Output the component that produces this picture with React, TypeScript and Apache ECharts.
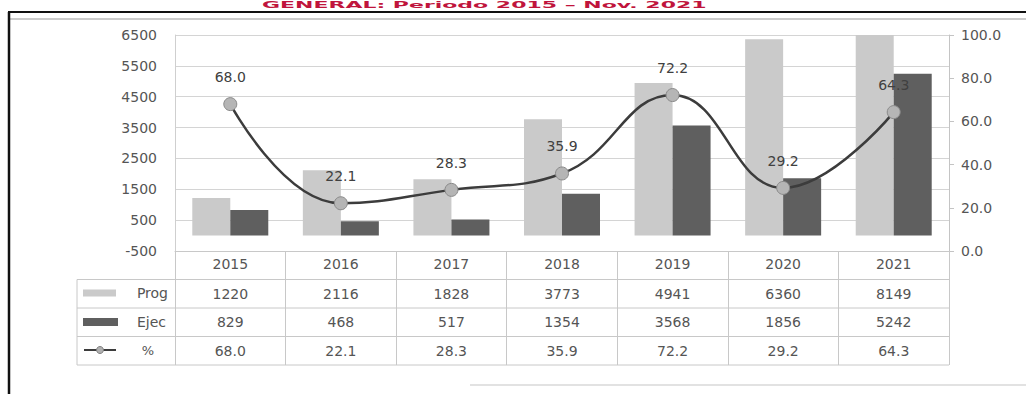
import React, { useEffect, useRef } from "react";
import * as echarts from "echarts";

const years = ["2015", "2016", "2017", "2018", "2019", "2020", "2021"];
const prog = [1220, 2116, 1828, 3773, 4941, 6360, 8149];
const ejec = [829, 468, 517, 1354, 3568, 1856, 5242];
const pct = [68.0, 22.1, 28.3, 35.9, 72.2, 29.2, 64.3];
const seriesNames = ["Prog", "Ejec", "%"];
const leftAxis = { min: -500, max: 6500, interval: 1000 };
const rightAxis = { min: 0, max: 100, interval: 20 };
const titleText = "GENERAL: Periodo 2015 – Nov. 2021";

const FONT = "DejaVu Sans";
const TXT = "#555555";
const GRIDC = "#d4d4d4";
const TABLEC = "#c8c8c8";
const PROG_C = "#cacaca";
const EJEC_C = "#5f5f5f";
const LINE_C = "#3c3c3c";

export default function App() {
  const ref = useRef<HTMLDivElement>(null);
  useEffect(() => {
    if (!ref.current) return;
    const chart = echarts.init(ref.current, null, { renderer: "svg" });
    const gridBottomY = 251;
    const rowH = 28.5;
    const tableLeft = 77;
    const tableRight = 949;
    const rowLines = [1, 2, 3, 4].map((i) => gridBottomY + rowH * i);
    const valueRows = [prog, ejec, pct.map((v) => v.toFixed(1))];

    const xBase = {
      type: "category",
      data: years,
      gridIndex: 0,
      position: "bottom",
      axisLine: { show: false, onZero: false },
      axisTick: { show: false },
      splitLine: { show: false },
    };

    const graphics: any[] = [
      // frame
      { type: "line", shape: { x1: 8, y1: 12, x2: 1026, y2: 12 }, style: { stroke: "#111", lineWidth: 2 } },
      { type: "line", shape: { x1: 10, y1: 19, x2: 1026, y2: 19 }, style: { stroke: "#bbb", lineWidth: 1.5 } },
      { type: "line", shape: { x1: 9, y1: 12, x2: 9, y2: 394 }, style: { stroke: "#111", lineWidth: 2.5 } },
      { type: "line", shape: { x1: 470, y1: 385, x2: 1026, y2: 385 }, style: { stroke: "#d8d8d8", lineWidth: 1.5 } },
      {
        type: "text",
        x: 262,
        y: 5,
        scaleY: 0.42,
        style: { text: titleText, fill: "#c0143c", font: `bold 22px ${FONT}`, verticalAlign: "middle" },
      },
      // table horizontal lines
      ...rowLines.map((y) => ({
        type: "line",
        shape: { x1: tableLeft, y1: y, x2: tableRight, y2: y },
        style: { stroke: TABLEC, lineWidth: 1 },
      })),
      { type: "line", shape: { x1: tableLeft, y1: rowLines[0], x2: tableLeft, y2: rowLines[3] }, style: { stroke: TABLEC, lineWidth: 1 } },
      // legend keys
      { type: "rect", shape: { x: 83, y: 289.5, width: 33, height: 7 }, style: { fill: PROG_C } },
      { type: "text", x: 168, y: 293, style: { text: seriesNames[0], fill: TXT, font: `14px ${FONT}`, align: "right", verticalAlign: "middle" } },
      { type: "rect", shape: { x: 83, y: 318, width: 35, height: 8 }, style: { fill: EJEC_C } },
      { type: "text", x: 166, y: 322, style: { text: seriesNames[1], fill: TXT, font: `14px ${FONT}`, align: "right", verticalAlign: "middle" } },
      { type: "line", shape: { x1: 84, y1: 350, x2: 116, y2: 350 }, style: { stroke: LINE_C, lineWidth: 2 } },
      { type: "circle", shape: { cx: 100, cy: 350, r: 3.5 }, style: { fill: "#b0b0b0", stroke: "#808080", lineWidth: 1 } },
      { type: "text", x: 154, y: 350, style: { text: seriesNames[2], fill: TXT, font: `13px ${FONT}`, align: "right", verticalAlign: "middle" } },
    ];

    chart.setOption({
      animation: false,
      backgroundColor: "#ffffff",
      textStyle: { fontFamily: FONT },
      grid: { left: 175, right: 1026 - tableRight, top: 35, bottom: 394 - gridBottomY, containLabel: false },
      xAxis: [
        {
          ...xBase,
          axisLine: { show: true, onZero: false, lineStyle: { color: TABLEC } },
          axisTick: { show: true, length: rowH * 4, lineStyle: { color: TABLEC } },
          axisLabel: { color: TXT, fontSize: 14, fontFamily: FONT, margin: 6 },
        },
        ...valueRows.map((row, r) => ({
          ...xBase,
          offset: rowH * (r + 1),
          axisLabel: {
            color: TXT,
            fontSize: 14,
            fontFamily: FONT,
            margin: 7,
            formatter: (_v: string, i: number) => String(row[i]),
          },
        })),
      ],
      yAxis: [
        {
          type: "value",
          min: leftAxis.min,
          max: leftAxis.max,
          interval: leftAxis.interval,
          position: "left",
          axisLine: { show: true, lineStyle: { color: "#cfcfcf" } },
          axisTick: { show: false },
          axisLabel: { color: TXT, fontSize: 14, fontFamily: FONT, margin: 18, formatter: (v: number) => String(v) },
          splitLine: { show: true, lineStyle: { color: GRIDC, width: 1 } },
        },
        {
          type: "value",
          min: rightAxis.min,
          max: rightAxis.max,
          interval: rightAxis.interval,
          position: "right",
          axisLine: { show: true, lineStyle: { color: "#c4c4c4" } },
          axisTick: { show: true, length: 5, lineStyle: { color: "#c4c4c4" } },
          axisLabel: { color: TXT, fontSize: 14, fontFamily: FONT, margin: 12, formatter: (v: number) => v.toFixed(1) },
          splitLine: { show: false },
        },
      ],
      series: [
        {
          name: seriesNames[0],
          type: "bar",
          data: prog,
          xAxisIndex: 0,
          yAxisIndex: 0,
          barWidth: 38,
          barGap: "0%",
          clip: true,
          itemStyle: { color: PROG_C },
        },
        {
          name: seriesNames[1],
          type: "bar",
          data: ejec,
          xAxisIndex: 0,
          yAxisIndex: 0,
          barWidth: 38,
          barGap: "0%",
          clip: true,
          itemStyle: { color: EJEC_C },
        },
        {
          name: seriesNames[2],
          type: "line",
          data: pct,
          xAxisIndex: 0,
          yAxisIndex: 1,
          smooth: 0.45,
          symbol: "circle",
          symbolSize: 13,
          lineStyle: { color: LINE_C, width: 2.5 },
          itemStyle: { color: "#b5b5b5", borderColor: "#8a8a8a", borderWidth: 1 },
          label: {
            show: true,
            position: "top",
            distance: 13,
            color: "#404040",
            fontSize: 14,
            fontFamily: FONT,
            formatter: (p: any) => Number(p.value).toFixed(1),
          },
          z: 5,
        },
      ],
      graphic: graphics,
    });
    return () => chart.dispose();
  }, []);
  return <div ref={ref} style={{ position: "fixed", left: 0, top: 0, width: 1026, height: 394 }} />;
}
